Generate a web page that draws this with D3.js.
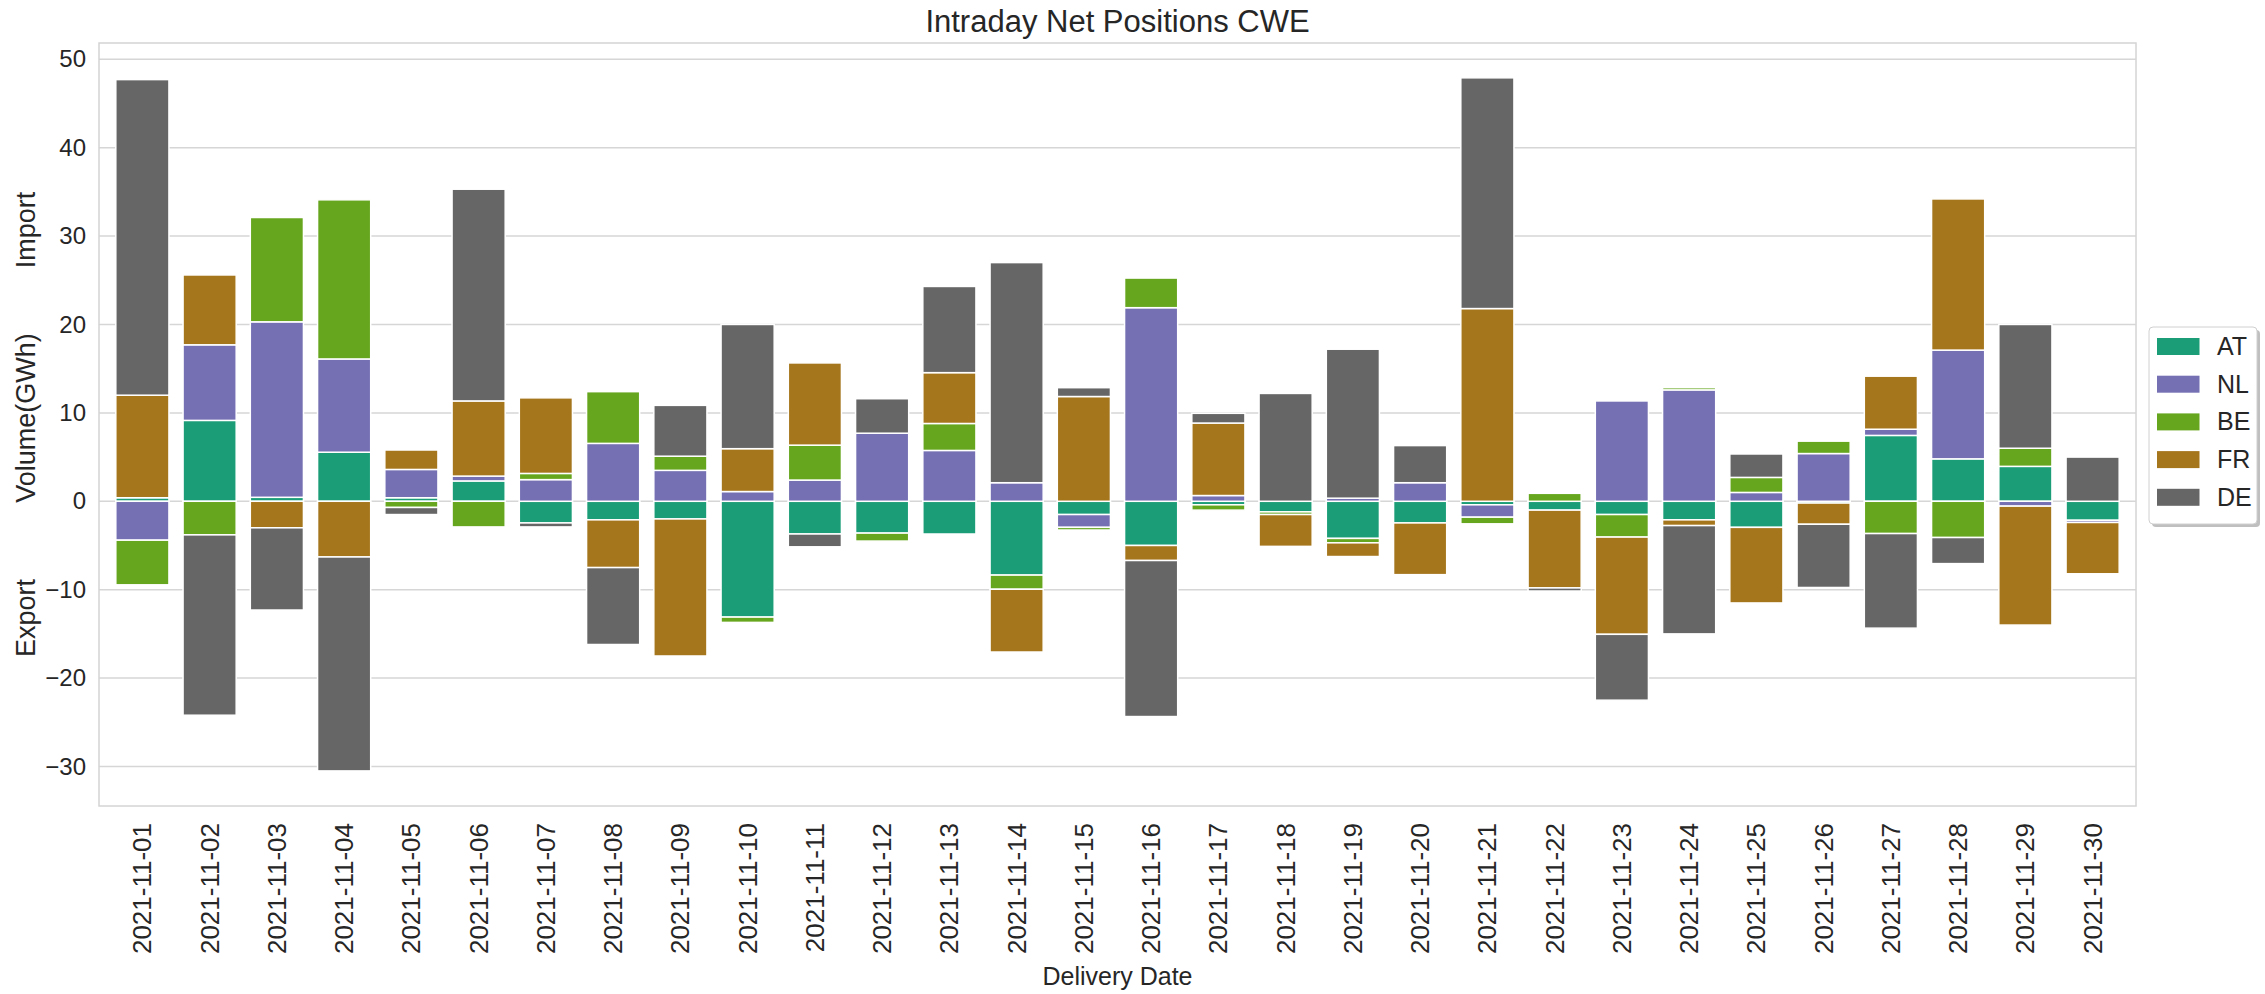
<!DOCTYPE html>
<html>
<head>
<meta charset="utf-8">
<script src="https://d3js.org/d3.v7.min.js"></script>
<style>
    body { margin: 0; background: #fff; }
    text { font-family: "Liberation Sans", Arial, sans-serif; fill: #262626; }
</style>
</head>
<body>
<svg id="chart" width="2265" height="994"></svg>
<script>
const dates = [
    "2021-11-01", "2021-11-02", "2021-11-03", "2021-11-04", "2021-11-05",
    "2021-11-06", "2021-11-07", "2021-11-08", "2021-11-09", "2021-11-10",
    "2021-11-11", "2021-11-12", "2021-11-13", "2021-11-14", "2021-11-15",
    "2021-11-16", "2021-11-17", "2021-11-18", "2021-11-19", "2021-11-20",
    "2021-11-21", "2021-11-22", "2021-11-23", "2021-11-24", "2021-11-25",
    "2021-11-26", "2021-11-27", "2021-11-28", "2021-11-29", "2021-11-30"
];
const countries = ["AT", "NL", "BE", "FR", "DE"];

// net positions per country (GWh), + import / - export
const at = [0.4, 9.15, 0.45, 5.55, 0.4, 2.3, -2.45, -2.1, -2.0, -13.1,
    -3.7, -3.6, -3.7, -8.35, -1.5, -5.0, -0.4, -1.2, -4.2, -2.45,
    -0.4, -1.0, -1.5, -2.1, -2.95, -0.2, 7.45, 4.8, 3.95, -2.15];
const nl = [-4.4, 8.55, 19.85, 10.55, 3.2, 0.55, 2.45, 6.55, 3.5, 1.1,
    2.4, 7.7, 5.75, 2.1, -1.45, 21.9, 0.65, 0, 0.35, 2.1,
    -1.4, 0, 11.35, 12.6, 1.0, 5.4, 0.7, 12.3, -0.55, -0.25];
const be = [-5.05, -3.8, 11.8, 18.0, -0.7, -2.9, 0.7, 5.85, 1.6, -0.6,
    3.95, -0.9, 3.05, -1.6, -0.3, 3.35, -0.6, -0.3, -0.5, 0,
    -0.75, 0.9, -2.55, 0.25, 1.7, 1.4, -3.65, -4.1, 2.05, 0];
const fr = [11.6, 7.9, -3.0, -6.3, 2.2, 8.5, 8.55, -5.4, -15.5, 4.85,
    9.3, 0, 5.75, -7.1, 11.85, -1.7, 8.2, -3.6, -1.55, -5.85,
    21.8, -8.8, -11.0, -0.65, -8.55, -2.4, 6.0, 17.1, -13.45, -5.8];
const de = [35.7, -20.4, -9.3, -24.2, -0.8, 23.95, -0.45, -8.7, 5.75, 14.05,
    -1.45, 3.9, 9.75, 24.9, 1.0, -17.65, 1.1, 12.2, 16.85, 4.2,
    26.1, -0.35, -7.45, -12.25, 2.65, -7.15, -10.7, -2.95, 14.0, 5.0];

const colors = ["#1b9e77", "#7570b3", "#66a61e", "#a6761d", "#666666"];
const yTicks = [-30, -20, -10, 0, 10, 20, 30, 40, 50];

const series = [at, nl, be, fr, de];
const rows = dates.map((d, i) => {
    let row = { date: d };
    countries.forEach((c, j) => row[c] = series[j][i]);
    return row;
});

const plot = { left: 99, right: 2136, top: 43, bottom: 806 };
const svg = d3.select("#chart");

const x = d3.scaleBand()
    .domain(dates)
    .range([plot.left, plot.right])
    .paddingInner(0.21)
    .paddingOuter(0.25);

const y = d3.scaleLinear()
    .domain([-34.47, 51.84])
    .range([plot.bottom, plot.top]);

const color = d3.scaleOrdinal().domain(countries).range(colors);

// grid
svg.append("g")
    .selectAll("line")
    .data(yTicks)
    .enter()
    .append("line")
    .attr("x1", plot.left)
    .attr("x2", plot.right)
    .attr("y1", d => y(d))
    .attr("y2", d => y(d))
    .attr("stroke", "#d6d6d6")
    .attr("stroke-width", 1.5);

// frame
svg.append("rect")
    .attr("x", plot.left)
    .attr("y", plot.top)
    .attr("width", plot.right - plot.left)
    .attr("height", plot.bottom - plot.top)
    .attr("fill", "none")
    .attr("stroke", "#d4d4d4")
    .attr("stroke-width", 1.5);

const stacked = d3.stack()
    .keys(countries)
    .offset(d3.stackOffsetDiverging)(rows);

svg.append("g")
    .selectAll("g")
    .data(stacked)
    .enter()
    .append("g")
    .attr("fill", d => color(d.key))
    .selectAll("rect")
    .data(d => d.filter(s => s[1] !== s[0]))
    .enter()
    .append("rect")
    .attr("x", d => x(d.data.date))
    .attr("width", x.bandwidth())
    .attr("y", d => y(Math.max(d[0], d[1])))
    .attr("height", d => Math.abs(y(d[0]) - y(d[1])))
    .attr("stroke", "white")
    .attr("stroke-width", 1.5);

// y axis
const yAxis = svg.append("g")
    .attr("transform", `translate(${plot.left},0)`)
    .call(d3.axisLeft(y).tickValues(yTicks).tickSize(0).tickPadding(13).tickFormat(d => d < 0 ? "\u2212" + Math.abs(d) : d));
yAxis.select(".domain").remove();
yAxis.selectAll("text")
    .style("font-size", "24px")
    .style("font-family", "Liberation Sans, Arial, sans-serif")
    .attr("fill", "#262626");

// x axis
const xAxis = svg.append("g")
    .attr("transform", `translate(0,${plot.bottom})`)
    .call(d3.axisBottom(x).tickSize(0));
xAxis.select(".domain").remove();
xAxis.selectAll("text")
    .attr("transform", "rotate(-90)")
    .attr("x", -17)
    .attr("y", 0)
    .attr("dy", "0.35em")
    .attr("text-anchor", "end")
    .style("font-size", "26px")
    .style("font-family", "Liberation Sans, Arial, sans-serif")
    .attr("fill", "#262626");

// labels
svg.append("text")
    .attr("x", (plot.left + plot.right) / 2)
    .attr("y", 32)
    .attr("text-anchor", "middle")
    .style("font-size", "31px")
    .text("Intraday Net Positions CWE");

svg.append("text")
    .attr("x", (plot.left + plot.right) / 2)
    .attr("y", 985)
    .attr("text-anchor", "middle")
    .style("font-size", "25px")
    .text("Delivery Date");

const sideLabels = [["Import", 230], ["Volume(GWh)", 418], ["Export", 618]];
svg.append("g")
    .selectAll("text")
    .data(sideLabels)
    .enter()
    .append("text")
    .attr("transform", d => `translate(35,${d[1]}) rotate(-90)`)
    .attr("text-anchor", "middle")
    .style("font-size", "27px")
    .text(d => d[0]);

// legend
const legend = svg.append("g").attr("transform", "translate(2149,327)");
legend.append("rect")
    .attr("x", 3).attr("y", 3)
    .attr("width", 108).attr("height", 197)
    .attr("rx", 4)
    .attr("fill", "#000")
    .attr("opacity", 0.25);
legend.append("rect")
    .attr("width", 108).attr("height", 197)
    .attr("rx", 4)
    .attr("fill", "white")
    .attr("stroke", "#d0d0d0")
    .attr("stroke-width", 1);

const items = legend.selectAll("g.item")
    .data(countries)
    .enter()
    .append("g")
    .attr("class", "item")
    .attr("transform", (d, i) => `translate(0,${11 + i * 37.7})`);
items.append("rect")
    .attr("x", 8)
    .attr("width", 42.5)
    .attr("height", 17)
    .attr("fill", d => color(d));
items.append("text")
    .attr("x", 68)
    .attr("y", 17)
    .style("font-size", "25px")
    .text(d => d);
</script>
</body>
</html>
